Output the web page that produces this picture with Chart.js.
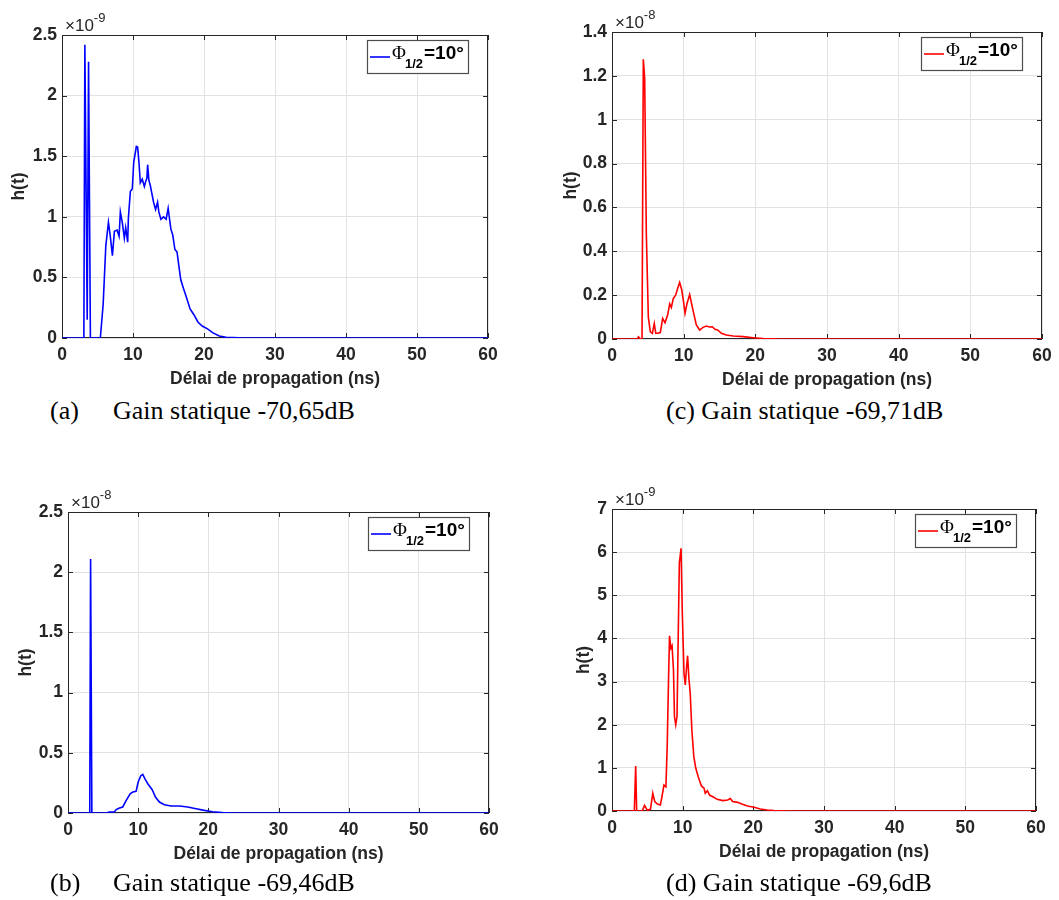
<!DOCTYPE html>
<html lang="fr">
<head>
<meta charset="UTF-8">
<title>Réponse impulsionnelle h(t) - Phi 1/2 = 10°</title>
<script src="https://cdn.jsdelivr.net/npm/chart.js"></script>
<style>
  body {
    margin: 0;
    background: #fff;
    width: 1059px;
    height: 900px;
    position: relative;
    overflow: hidden;
  }
  canvas { position: absolute; }
  .caption {
    position: absolute;
    font-family: 'Liberation Serif', 'Times New Roman', serif;
    font-size: 26px;
    line-height: 30px;
    color: #000;
    white-space: pre;
  }
</style>
</head>
<body>

<canvas id="chartA" width="530" height="395" style="left:0px;top:0px"></canvas>
<canvas id="chartC" width="529" height="396" style="left:530px;top:0px"></canvas>
<canvas id="chartB" width="530" height="400" style="left:0px;top:470px"></canvas>
<canvas id="chartD" width="529" height="400" style="left:530px;top:470px"></canvas>

<div class="caption" style="left:50px;top:396px">(a)</div>
<div class="caption" style="left:113px;top:396px">Gain statique -70,65dB</div>
<div class="caption" style="left:666px;top:396px">(c) Gain statique -69,71dB</div>
<div class="caption" style="left:50px;top:868px">(b)</div>
<div class="caption" style="left:113px;top:868px">Gain statique -69,46dB</div>
<div class="caption" style="left:666px;top:868px">(d) Gain statique -69,6dB</div>

<script>
// ---- data (h(t) read in units of the axis exponent) ----
const xTicks = [0, 10, 20, 30, 40, 50, 60];

// (a) blue, x10^-9
const timeA = [0, 3.08, 3.22, 3.55, 3.74, 4.0, 5.4, 5.8, 6.17, 6.54, 6.8, 7.1, 7.38, 7.76, 8.04, 8.22, 8.5, 8.78, 8.97, 9.25,
  9.35, 9.63, 9.9, 10.1, 10.47, 10.65, 10.84, 11.03, 11.3, 11.6, 11.78, 11.96, 12.06, 12.24, 12.43, 12.6, 12.9, 13.18, 13.46, 13.64,
  13.93, 14.3, 14.67, 14.95, 15.33, 15.6, 15.9, 16.2, 16.45, 16.73, 17.1, 17.5, 18.04, 18.6, 19.16, 19.8, 20.5, 21.2, 22.15, 23.1, 25, 60];
const hA = [0, 0, 2.42, 0.15, 2.28, 0, 0, 0.28, 0.76, 0.955, 0.84, 0.68, 0.88, 0.89, 0.84, 1.04, 0.95, 0.825, 0.91, 0.79,
  0.99, 1.21, 1.23, 1.45, 1.58, 1.575, 1.45, 1.28, 1.31, 1.25, 1.29, 1.32, 1.43, 1.30, 1.26, 1.21, 1.12, 1.06, 1.12, 1.04,
  0.98, 1.0, 0.98, 1.07, 0.90, 0.85, 0.73, 0.71, 0.60, 0.48, 0.41, 0.34, 0.24, 0.19, 0.13, 0.097, 0.075, 0.044, 0.017, 0.006, 0.001, 0];
const yTicksA = [0, 0.5, 1, 1.5, 2, 2.5];

// (b) blue, x10^-8
const timeB = [0, 3.1, 3.22, 3.4, 5.45, 5.9, 6.6, 6.87, 7.25, 7.8, 8.3, 8.86, 9.24, 9.7, 10.0, 10.38, 10.66, 10.95, 11.37, 12.0,
  12.46, 13.03, 13.74, 14.7, 15.9, 17.06, 18.25, 19.43, 20.6, 22.0, 23.5, 60];
const hB = [0, 0, 2.11, 0, 0, 0.008, 0.008, 0.028, 0.04, 0.05, 0.105, 0.16, 0.174, 0.18, 0.257, 0.31, 0.32, 0.285, 0.243, 0.193,
  0.133, 0.091, 0.069, 0.058, 0.058, 0.05, 0.036, 0.022, 0.011, 0.003, 0, 0];
const yTicksB = [0, 0.5, 1, 1.5, 2, 2.5];

// (c) red, x10^-8
const timeC = [0, 3.5, 3.7, 3.95, 4.19, 4.37, 4.56, 4.79, 5.07, 5.35, 5.63, 5.9, 6.1, 6.4, 6.74, 7.07, 7.4, 7.77, 8.05, 8.28,
  8.56, 8.88, 9.16, 9.44, 9.72, 9.95, 10.19, 10.47, 10.84, 11.1, 11.4, 11.77, 12.23, 12.7, 13.16, 13.6, 14.0, 14.37, 14.74, 15.26,
  15.95, 16.9, 18.3, 19.7, 21.1, 23.4, 60];
const hC = [0, 0, 0.01, 0, 0, 1.276, 1.19, 0.48, 0.10, 0.033, 0.026, 0.071, 0.026, 0.026, 0.029, 0.094, 0.074, 0.11, 0.16, 0.144,
  0.185, 0.2, 0.23, 0.258, 0.226, 0.177, 0.117, 0.162, 0.203, 0.162, 0.117, 0.064, 0.041, 0.053, 0.059, 0.055, 0.056, 0.044, 0.041, 0.026,
  0.018, 0.014, 0.011, 0.006, 0.002, 0, 0];
const yTicksC = [0, 0.2, 0.4, 0.6, 0.8, 1, 1.2, 1.4];

// (d) red, x10^-9
const timeD = [0, 3.16, 3.35, 3.49, 4.28, 4.6, 4.98, 5.44, 5.77, 6.05, 6.42, 6.84, 7.07, 7.35, 7.63, 7.81, 8.0, 8.14, 8.33, 8.5,
  8.7, 8.84, 9.02, 9.2, 9.35, 9.53, 9.77, 9.95, 10.19, 10.37, 10.56, 10.7, 10.88, 11.07, 11.3, 11.58, 11.86, 12.19, 12.65, 13.02,
  13.2, 13.5, 13.8, 14.28, 14.88, 15.67, 16.37, 16.74, 17.07, 17.77, 18.47, 19.16, 20.1, 21.0, 21.95, 22.9, 25, 60];
const hD = [0, 0, 1.04, 0, 0, 0.13, 0.02, 0.04, 0.41, 0.22, 0.16, 0.14, 0.33, 0.6, 0.56, 1.49, 3.04, 4.06, 3.77, 3.83,
  3.27, 2.19, 2.0, 2.19, 3.81, 5.75, 6.09, 4.59, 3.19, 2.92, 3.35, 3.6, 3.08, 2.73, 1.88, 1.26, 0.99, 0.8, 0.58, 0.53,
  0.41, 0.47, 0.37, 0.33, 0.27, 0.24, 0.255, 0.29, 0.22, 0.2, 0.155, 0.116, 0.085, 0.046, 0.023, 0.008, 0, 0];
const yTicksD = [0, 1, 2, 3, 4, 5, 6, 7];

// ---- look ----
const FONT = "'Liberation Sans', Arial, Helvetica, sans-serif";
const SERIF = "'Liberation Serif', 'Times New Roman', serif";
const INK = '#262626';
const GRID = '#e2e2e2';
const X_AXIS_H = 57;
const TITLE_SIZE = 17.5;

// box around plot, inward ticks, exponent and legend (MATLAB look)
const matlabAxes = {
  id: 'matlabAxes',
  beforeDatasetsDraw(chart) {
    const { ctx, chartArea: a, scales } = chart;
    ctx.save();
    ctx.strokeStyle = INK;
    ctx.lineWidth = 1;
    ctx.strokeRect(a.left + 0.5, a.top + 0.5, a.width - 1, a.height - 1);
    ctx.beginPath();
    scales.x.ticks.forEach(t => {
      const px = Math.round(scales.x.getPixelForValue(t.value)) + 0.5;
      ctx.moveTo(px, a.bottom); ctx.lineTo(px, a.bottom - 5);
      ctx.moveTo(px, a.top); ctx.lineTo(px, a.top + 5);
    });
    scales.y.ticks.forEach(t => {
      const py = Math.round(scales.y.getPixelForValue(t.value)) + 0.5;
      ctx.moveTo(a.left, py); ctx.lineTo(a.left + 5, py);
      ctx.moveTo(a.right, py); ctx.lineTo(a.right - 5, py);
    });
    ctx.stroke();
    ctx.restore();
  },
  afterDraw(chart, args, opts) {
    const { ctx, chartArea: a } = chart;
    ctx.save();
    // exponent label
    ctx.fillStyle = INK;
    ctx.textBaseline = 'alphabetic';
    ctx.font = '17px ' + FONT;
    const ex = a.left + 3, ey = a.top - 4;
    ctx.fillText('\u00d710', ex, ey);
    const w = ctx.measureText('\u00d710').width;
    ctx.font = '13px ' + FONT;
    ctx.fillText(opts.exponent, ex + w, ey - 9);

    // legend
    const bw = 101, bh = 33;
    const bx = a.right - 20 - bw, by = a.top + 5;
    ctx.fillStyle = '#fff';
    ctx.fillRect(bx, by, bw, bh);
    ctx.strokeStyle = '#4d4d4d';
    ctx.lineWidth = 1.2;
    ctx.strokeRect(bx + 0.5, by + 0.5, bw, bh);
    ctx.strokeStyle = opts.color;
    ctx.lineWidth = 1.6;
    ctx.beginPath();
    ctx.moveTo(bx + 3, by + 17);
    ctx.lineTo(bx + 23, by + 17);
    ctx.stroke();
    ctx.fillStyle = '#000';
    ctx.font = '19px ' + SERIF;
    ctx.fillText('\u03a6', bx + 25, by + 19);
    ctx.font = 'bold 13px ' + FONT;
    ctx.fillText('1/2', bx + 38, by + 28);
    ctx.font = 'bold 19px ' + FONT;
    ctx.fillText('=10\u00b0', bx + 57, by + 19);
    ctx.restore();
  }
};

function makeChart(id, frame, times, values, yTicks, color, exponent) {
  const padding = {
    left: 0,
    top: frame.plotT - frame.top,
    right: frame.w - (frame.plotR - frame.left),
    bottom: frame.h - (frame.plotB - frame.top) - X_AXIS_H
  };
  const yWidth = frame.plotL - frame.left;
  return new Chart(document.getElementById(id), {
    type: 'line',
    data: {
      datasets: [{
        data: times.map((t, i) => ({ x: t, y: values[i] })),
        borderColor: color,
        borderWidth: 1.6,
        pointRadius: 0,
        tension: 0,
        fill: false
      }]
    },
    options: {
      responsive: false,
      animation: false,
      events: [],
      layout: { padding },
      plugins: {
        legend: { display: false },
        tooltip: { enabled: false },
        matlabAxes: { color, exponent }
      },
      scales: {
        x: {
          type: 'linear',
          min: 0,
          max: 60,
          afterBuildTicks: s => { s.ticks = xTicks.map(v => ({ value: v })); },
          afterFit: s => { s.height = X_AXIS_H; },
          grid: { color: GRID, drawTicks: false },
          border: { display: false },
          ticks: {
            color: INK, padding: 7, maxRotation: 0, autoSkip: false,
            font: { family: FONT, size: 17.5, weight: 'bold' },
            callback: v => v.toString()
          },
          title: {
            display: true, text: 'Délai de propagation (ns)', color: INK,
            font: { family: FONT, size: TITLE_SIZE, weight: 'bold' },
            padding: { top: 0, bottom: 5 }
          }
        },
        y: {
          type: 'linear',
          min: yTicks[0],
          max: yTicks[yTicks.length - 1],
          afterBuildTicks: s => { s.ticks = yTicks.map(v => ({ value: v })); },
          afterFit: s => { s.width = yWidth; },
          grid: { color: GRID, drawTicks: false },
          border: { display: false },
          ticks: {
            color: INK, padding: 5,
            font: { family: FONT, size: 17.5, weight: 'bold' },
            callback: v => v.toString()
          },
          title: {
            display: true, text: 'h(t)', color: INK,
            font: { family: FONT, size: TITLE_SIZE, weight: 'bold' },
            padding: { top: frame.titleX - TITLE_SIZE * 0.6, bottom: 0 }
          }
        }
      }
    },
    plugins: [matlabAxes]
  });
}

makeChart('chartA', { left: 0, top: 0, w: 530, h: 395, plotL: 62, plotT: 35, plotR: 488, plotB: 338, titleX: 19 },
  timeA, hA, yTicksA, '#0000ff', '-9');
makeChart('chartC', { left: 530, top: 0, w: 529, h: 396, plotL: 612, plotT: 32, plotR: 1042, plotB: 339, titleX: 41 },
  timeC, hC, yTicksC, '#ff0000', '-8');
makeChart('chartB', { left: 0, top: 470, w: 530, h: 400, plotL: 68, plotT: 512, plotR: 489, plotB: 813, titleX: 26 },
  timeB, hB, yTicksB, '#0000ff', '-8');
makeChart('chartD', { left: 530, top: 470, w: 529, h: 400, plotL: 612, plotT: 509, plotR: 1036, plotB: 811, titleX: 54 },
  timeD, hD, yTicksD, '#ff0000', '-9');
</script>
</body>
</html>
